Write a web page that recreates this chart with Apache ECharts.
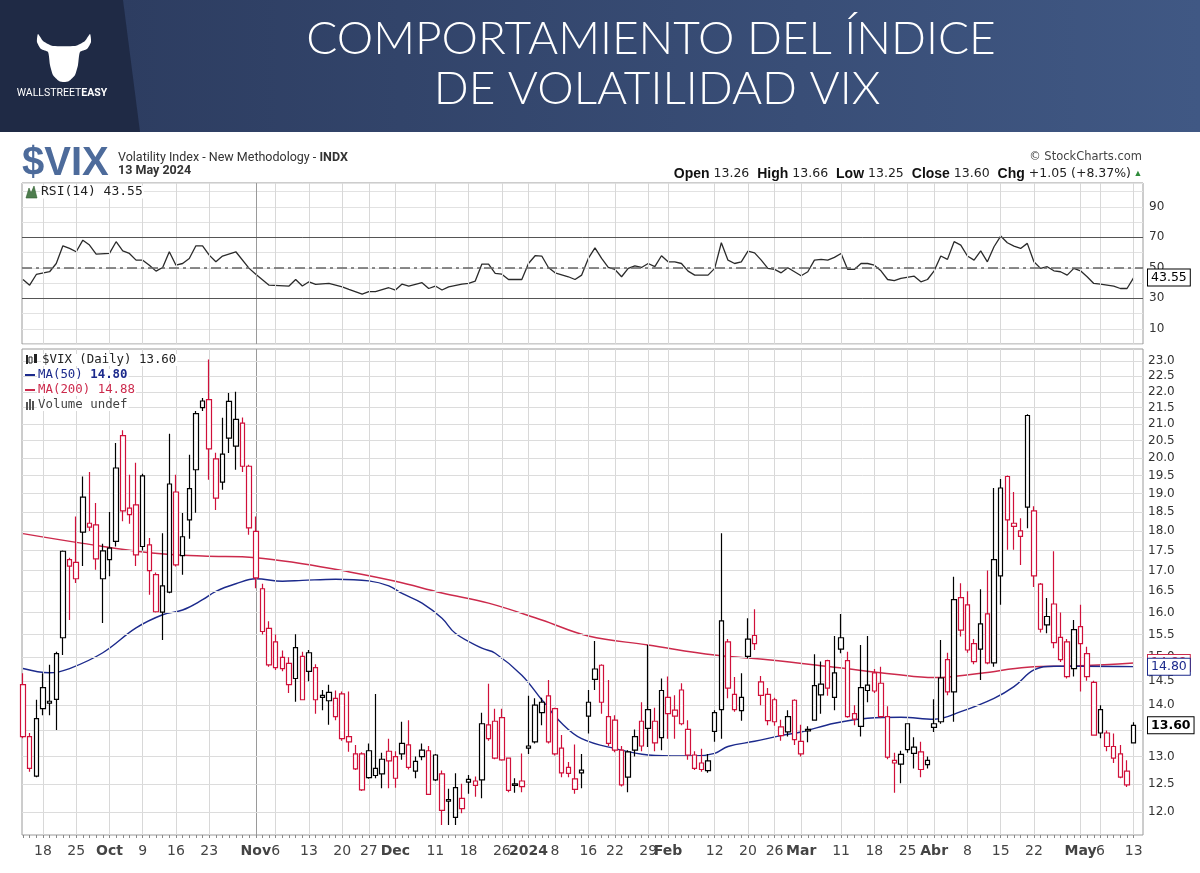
<!DOCTYPE html>
<html><head><meta charset="utf-8">
<script src="https://cdn.jsdelivr.net/npm/echarts@6/dist/echarts.min.js"></script>
<style>html,body{margin:0;padding:0;background:#fff}#c{width:1200px;height:873px}</style>
</head><body><div id="c"></div>
<script>
// ---------- DATA ----------
const dates = [
'2023-09-13','2023-09-14','2023-09-15','2023-09-18','2023-09-19','2023-09-20','2023-09-21','2023-09-22','2023-09-25','2023-09-26','2023-09-27','2023-09-28','2023-09-29',
'2023-10-02','2023-10-03','2023-10-04','2023-10-05','2023-10-06','2023-10-09','2023-10-10','2023-10-11','2023-10-12','2023-10-13','2023-10-16','2023-10-17','2023-10-18','2023-10-19','2023-10-20','2023-10-23','2023-10-24','2023-10-25','2023-10-26','2023-10-27','2023-10-30','2023-10-31',
'2023-11-01','2023-11-02','2023-11-03','2023-11-06','2023-11-07','2023-11-08','2023-11-09','2023-11-10','2023-11-13','2023-11-14','2023-11-15','2023-11-16','2023-11-17','2023-11-20','2023-11-21','2023-11-22','2023-11-24','2023-11-27','2023-11-28','2023-11-29','2023-11-30',
'2023-12-01','2023-12-04','2023-12-05','2023-12-06','2023-12-07','2023-12-08','2023-12-11','2023-12-12','2023-12-13','2023-12-14','2023-12-15','2023-12-18','2023-12-19','2023-12-20','2023-12-21','2023-12-22','2023-12-26','2023-12-27','2023-12-28','2023-12-29',
'2024-01-02','2024-01-03','2024-01-04','2024-01-05','2024-01-08','2024-01-09','2024-01-10','2024-01-11','2024-01-12','2024-01-16','2024-01-17','2024-01-18','2024-01-19','2024-01-22','2024-01-23','2024-01-24','2024-01-25','2024-01-26','2024-01-29','2024-01-30','2024-01-31',
'2024-02-01','2024-02-02','2024-02-05','2024-02-06','2024-02-07','2024-02-08','2024-02-09','2024-02-12','2024-02-13','2024-02-14','2024-02-15','2024-02-16','2024-02-20','2024-02-21','2024-02-22','2024-02-23','2024-02-26','2024-02-27','2024-02-28','2024-02-29',
'2024-03-01','2024-03-04','2024-03-05','2024-03-06','2024-03-07','2024-03-08','2024-03-11','2024-03-12','2024-03-13','2024-03-14','2024-03-15','2024-03-18','2024-03-19','2024-03-20','2024-03-21','2024-03-22','2024-03-25','2024-03-26','2024-03-27','2024-03-28',
'2024-04-01','2024-04-02','2024-04-03','2024-04-04','2024-04-05','2024-04-08','2024-04-09','2024-04-10','2024-04-11','2024-04-12','2024-04-15','2024-04-16','2024-04-17','2024-04-18','2024-04-19','2024-04-22','2024-04-23','2024-04-24','2024-04-25','2024-04-26','2024-04-29','2024-04-30',
'2024-05-01','2024-05-02','2024-05-03','2024-05-06','2024-05-07','2024-05-08','2024-05-09','2024-05-10','2024-05-13'
];
const opens = [
14.42,13.38,12.64,14.36,14.08,14.12,15.43,17.27,17.20,17.97,18.20,18.16,16.80,
17.27,17.73,20.65,18.60,18.69,19.49,17.64,16.90,16.01,16.48,19.04,17.37,18.29,19.66,21.50,21.75,19.97,19.31,21.70,20.34,21.03,19.76,
17.99,16.56,15.64,15.34,15.00,14.87,14.55,15.02,15.10,14.78,14.20,14.09,14.14,14.23,13.38,13.05,13.05,13.11,12.78,12.68,13.10,
13.00,13.25,13.22,12.73,13.12,13.11,13.03,12.68,12.22,11.91,12.06,12.58,12.55,12.57,13.34,13.68,13.75,12.97,12.50,12.55,
13.20,13.28,13.85,14.19,13.93,13.16,12.80,12.59,12.75,14.06,14.53,14.83,13.77,13.70,13.12,12.62,13.12,13.68,13.91,13.68,13.36,
14.16,13.90,14.31,13.52,13.03,12.88,12.74,13.48,13.91,15.34,14.22,13.89,15.02,15.48,14.20,14.22,14.11,13.57,13.47,14.10,
13.29,13.52,13.70,14.21,14.93,14.16,15.43,14.93,13.83,13.58,14.30,14.67,14.45,13.77,12.93,12.86,13.63,13.06,13.09,12.85,
13.56,13.67,14.95,14.27,16.35,16.18,15.30,15.18,15.97,14.88,16.87,19.47,18.20,17.86,21.26,18.53,16.67,15.72,16.20,15.44,15.34,14.76,
15.68,15.08,14.47,13.91,13.45,13.19,13.05,12.73,13.26
];
const closes = [
13.38,12.78,13.73,13.93,14.04,15.08,17.48,17.11,16.80,18.90,18.10,17.29,17.49,
17.56,19.71,18.53,18.43,17.39,17.60,17.00,16.02,16.63,19.26,17.14,17.85,19.13,21.32,21.71,20.26,18.87,20.11,20.58,21.14,19.76,18.08,
16.82,15.57,14.84,14.78,14.76,14.42,15.21,14.11,14.70,14.11,14.16,14.26,13.77,13.34,13.28,12.77,12.39,12.61,12.65,12.95,12.92,
12.60,13.05,12.80,12.91,13.00,12.31,12.57,12.03,12.19,12.43,12.24,12.53,12.47,13.63,13.61,12.97,12.94,12.38,12.47,12.45,
13.16,14.00,14.06,13.28,13.05,12.70,12.69,12.40,12.70,13.78,14.75,14.06,13.25,13.12,12.48,13.09,13.38,13.20,13.54,13.26,14.30,
13.83,13.78,13.63,13.03,12.78,12.76,12.92,13.85,15.81,14.35,13.91,14.16,15.40,15.30,14.48,13.69,13.67,13.40,13.77,13.32,
13.05,13.49,14.40,14.43,14.35,14.67,15.18,13.77,13.72,14.36,14.41,14.29,13.77,12.99,12.88,13.04,13.13,13.18,12.76,12.93,
13.63,14.56,14.27,16.30,15.60,15.16,14.91,15.74,14.88,17.27,19.15,18.29,18.12,18.00,18.63,16.87,15.62,15.91,15.32,14.95,14.59,15.61,
15.30,14.59,13.41,13.45,13.19,12.97,12.62,12.48,13.60
];
const lows = [
13.35,12.72,12.62,13.80,13.80,13.51,15.05,15.83,16.70,17.11,18.00,17.02,15.76,
16.86,17.60,18.25,18.19,17.11,17.50,16.42,16.00,15.38,16.45,17.10,16.90,17.80,18.48,21.40,19.38,18.55,19.10,20.14,19.66,19.60,17.90,
16.57,15.50,14.80,14.73,14.70,14.25,14.07,14.10,14.49,13.83,13.90,13.61,13.70,13.30,13.09,12.75,12.37,12.59,12.60,12.42,12.42,
12.43,12.94,12.76,12.60,12.93,12.30,12.55,11.78,11.78,11.78,11.98,12.32,12.27,12.24,13.30,12.95,12.92,12.35,12.34,12.35,
13.05,13.25,13.60,13.25,13.02,12.62,12.62,12.32,12.42,13.44,14.31,13.83,13.20,13.08,12.45,12.35,13.00,13.10,13.18,13.10,13.12,
13.34,13.34,13.60,12.94,12.75,12.72,12.70,13.28,13.34,14.14,13.87,13.69,14.98,15.16,14.00,13.60,13.59,13.30,13.38,13.22,
13.00,13.27,13.70,13.83,14.19,13.90,15.09,13.75,13.60,13.38,14.06,14.25,13.75,12.95,12.34,12.51,13.07,12.78,12.62,12.78,
13.47,13.63,14.20,13.67,15.46,15.10,14.85,14.52,14.85,14.80,16.18,17.52,17.52,17.14,18.07,16.60,15.55,15.53,15.20,14.90,14.55,14.59,
14.28,14.50,13.40,13.35,13.10,12.88,12.60,12.44,13.25
];
const highs = [
14.66,13.45,14.11,14.66,14.84,15.12,17.50,17.32,18.38,19.47,19.60,18.74,17.67,
18.50,20.43,20.81,19.52,19.86,19.55,17.82,16.95,17.94,20.71,19.52,18.47,20.09,21.40,21.80,23.05,20.15,21.19,21.96,22.00,21.20,19.80,
18.38,16.68,15.80,15.50,15.15,15.00,15.51,15.12,15.16,14.85,14.31,14.42,14.30,14.28,14.28,13.22,13.08,13.25,14.23,13.07,13.34,
13.10,13.67,13.70,13.00,13.25,13.20,13.05,12.74,12.41,12.69,12.50,12.66,12.63,13.85,14.44,13.93,13.93,12.97,12.60,13.06,
14.19,14.14,14.15,14.52,13.95,13.41,12.90,13.23,13.05,14.31,15.36,14.85,14.52,13.80,13.20,13.12,13.52,14.06,15.27,13.95,14.55,
14.59,14.20,14.45,13.70,13.10,13.15,13.05,13.90,17.94,15.40,14.58,14.66,15.87,16.08,14.60,14.35,14.15,13.71,13.90,14.12,
13.61,13.58,15.07,14.91,14.95,15.47,15.97,15.12,14.00,15.27,15.47,14.75,14.80,13.98,13.07,13.11,13.63,13.37,13.28,13.00,
14.12,15.38,15.10,16.85,16.69,16.50,15.40,16.55,17.00,19.15,19.40,19.50,19.04,18.33,21.30,18.65,16.70,16.34,17.48,16.00,15.40,15.83,
16.18,15.23,14.50,14.00,13.50,13.44,13.22,12.93,13.66
];
// moving averages: [candle index, value]
const ma50 = [[0,14.76],[4,14.67],[7,14.76],[12,15.10],[17,15.65],[21,15.95],[24,16.06],[27,16.30],[29,16.50],[32,16.68],[35,16.80],[39,16.74],[42,16.76],[47,16.79],[52,16.75],[55,16.63],[57,16.45],[60,16.22],[63,15.87],[65,15.53],[69,15.20],[71,15.09],[75,14.62],[78,14.11],[81,13.64],[84,13.34],[89,13.15],[94,13.03],[99,13.01],[101,13.01],[104,13.06],[106,13.19],[110,13.29],[114,13.40],[117,13.47],[122,13.64],[127,13.74],[132,13.76],[137,13.72],[141,13.87],[146,14.14],[149,14.38],[152,14.73],[155,14.81],[159,14.81],[167,14.80]];
const ma200 = [[0,17.93],[9,17.68],[19,17.44],[27,17.36],[35,17.32],[42,17.17],[48,17.00],[56,16.74],[63,16.46],[70,16.22],[78,15.83],[85,15.47],[94,15.27],[104,15.05],[112,14.95],[122,14.79],[131,14.64],[137,14.57],[144,14.66],[151,14.79],[159,14.82],[167,14.88]];
const rsi = [[0,42.3],[1,38.6],[2,45.6],[4,47.4],[5,52.8],[6,64.4],[7,62.7],[8,60.5],[9,68.1],[10,64.9],[11,59.0],[13,59.4],[14,67.1],[15,61.1],[16,59.4],[17,55.0],[18,55.0],[19,51.7],[20,47.8],[21,50.2],[22,60.5],[23,51.7],[24,52.8],[25,56.1],[26,64.4],[27,64.4],[28,58.3],[29,53.9],[30,57.7],[32,60.5],[34,49.6],[35,45.8],[37,38.6],[40,38.0],[41,42.3],[42,38.0],[43,40.8],[44,39.1],[46,39.7],[48,37.5],[49,35.8],[51,32.7],[52,34.3],[53,34.3],[55,36.9],[56,35.4],[57,39.3],[58,38.0],[60,40.2],[61,36.4],[62,38.0],[63,35.4],[64,37.5],[66,39.3],[67,39.7],[68,41.3],[69,52.4],[70,52.4],[71,46.3],[72,45.8],[73,42.3],[75,42.3],[76,52.8],[77,57.9],[78,57.7],[79,50.2],[80,46.7],[82,44.1],[83,42.3],[84,45.2],[85,56.1],[86,63.1],[87,56.1],[88,50.2],[89,48.9],[90,44.1],[91,49.6],[92,51.3],[93,50.2],[94,52.8],[95,50.7],[96,57.9],[97,53.9],[98,53.9],[99,52.8],[100,47.8],[101,45.2],[103,45.2],[104,49.6],[105,66.4],[106,55.0],[107,52.8],[108,53.9],[109,60.9],[110,59.8],[111,55.0],[112,49.6],[113,48.9],[114,46.7],[115,50.0],[116,47.4],[117,44.8],[118,47.4],[119,55.0],[120,55.5],[121,55.0],[122,56.8],[123,59.4],[124,48.9],[125,48.9],[126,52.8],[127,52.8],[128,51.7],[129,48.0],[130,42.3],[131,41.5],[132,43.0],[134,44.5],[135,40.8],[136,42.3],[137,48.0],[138,57.7],[139,55.5],[140,67.1],[141,64.9],[142,57.7],[143,55.0],[144,61.1],[145,53.9],[146,63.8],[147,70.8],[148,66.4],[149,64.2],[150,62.7],[151,66.0],[152,53.9],[153,49.6],[154,50.7],[155,48.0],[156,47.4],[157,45.2],[158,49.6],[159,48.0],[160,44.1],[161,39.7],[162,39.3],[164,38.0],[165,36.4],[166,36.4],[167,43.55]];
const priceTicks = [12.0,12.5,13.0,13.5,14.0,14.5,15.0,15.5,16.0,16.5,17.0,17.5,18.0,18.5,19.0,19.5,20.0,20.5,21.0,21.5,22.0,22.5,23.0];
const rsiTicks = [10,30,50,70,90];
const rsiLevels = [30,70];
const rsiMid = 50;
const xTicks = [['2023-09-18','18'],['2023-09-25','25'],['2023-10-02','Oct'],['2023-10-09','9'],['2023-10-16','16'],['2023-10-23','23'],['2023-11-01','Nov'],['2023-11-06','6'],['2023-11-13','13'],['2023-11-20','20'],['2023-11-27','27'],['2023-12-01','Dec'],['2023-12-11','11'],['2023-12-18','18'],['2023-12-26','26'],['2024-01-02','2024'],['2024-01-08','8'],['2024-01-16','16'],['2024-01-22','22'],['2024-01-29','29'],['2024-02-01','Feb'],['2024-02-12','12'],['2024-02-20','20'],['2024-02-26','26'],['2024-03-01','Mar'],['2024-03-11','11'],['2024-03-18','18'],['2024-03-25','25'],['2024-04-01','Abr'],['2024-04-08','8'],['2024-04-15','15'],['2024-04-22','22'],['2024-05-01','May'],['2024-05-06','6'],['2024-05-13','13']];
const boldLabels = ['Oct','Nov','Dec','2024','Feb','Mar','Abr','May'];
const strongLines = ['2023-11-01'];
const lastClose = 13.60, lastMa50 = 14.80, lastMa200 = 14.88, lastRsi = 43.55;

// ---------- STYLE ----------
const RED = '#d0103a', BLK = '#000000', NAVY = '#1c2a8c', MARED = '#cc2a4c';
const FONT = '"DejaVu Sans", sans-serif';
const MONO = '"DejaVu Sans Mono", monospace';
const NOLINE = { color: 'rgba(0,0,0,0)', width: 0 };

const candles = dates.map((d, i) => {
  const o = opens[i], c = closes[i];
  const prev = i > 0 ? closes[i - 1] : o;
  const col = c < prev ? RED : BLK;
  return { value: [i, o, c, lows[i], highs[i]],
    itemStyle: { color: '#ffffff', color0: col, borderColor: col, borderColor0: col } };
});
const xLabelMap = {};
xTicks.forEach(([d, t]) => { xLabelMap[dates.indexOf(d)] = t; });
const xLabelIdx = Object.keys(xLabelMap).map(Number);
const vLines = xTicks.map(([d]) => ({ xAxis: dates.indexOf(d),
  lineStyle: { color: strongLines.includes(d) ? '#9a9a9a' : '#d8d8d8', width: 1, type: 'solid' } }));

const XMIN = -0.15, XMAX = 168.4;
const chart = echarts.init(document.getElementById('c'), null, { renderer: 'canvas' });

const tagLabel = (col, bold) => ({ show: true, position: 'end', distance: 5, formatter: p => Number(p.value).toFixed(2),
  backgroundColor: '#fff', borderColor: col, borderWidth: 1, padding: [2, 3, 1, 3], color: col,
  fontSize: 12.5, fontFamily: FONT, fontWeight: bold ? 'bold' : 'normal' });

const bull = [[12,20],[5,17],[1,10],[2,2],[7,9],[12,12],[17,14],[39,14],[44,12],[49,9],[54,2],[55,10],[51,17],[44,20],[42,33],[39,43],[33,49],[28,50],[23,49],[17,43],[14,33]].map(p => [p[0] + 36, p[1] + 32]);
const legendText = (x, y, text, fill, rich) => ({ type: 'text', x: x, y: y, z: 100,
  style: { text: text, fill: fill, fontSize: 12.4, fontFamily: MONO, verticalAlign: 'middle', backgroundColor: '#fff', padding: [0, 1], rich: rich } });

chart.setOption({
  animation: false,
  backgroundColor: '#ffffff',
  grid: [
    { left: 22, right: 57, top: 183, bottom: 529, show: true, borderColor: '#9a9a9a', borderWidth: 1, backgroundColor: '#fff' },
    { left: 22, right: 57, top: 349, bottom: 38, show: true, borderColor: '#9a9a9a', borderWidth: 1, backgroundColor: '#fff' }
  ],
  xAxis: [
    { type: 'value', gridIndex: 0, min: XMIN, max: XMAX, axisLine: { show: false }, axisTick: { show: false }, axisLabel: { show: false }, splitLine: { show: false } },
    { type: 'value', gridIndex: 1, min: XMIN, max: XMAX, axisLine: { show: false }, splitLine: { show: false },
      axisTick: { show: true, customValues: dates.map((d, i) => i), length: 3, lineStyle: { color: '#888' } },
      axisLabel: { show: true, customValues: xLabelIdx, margin: 9, fontSize: 14, color: '#444', fontFamily: FONT,
        formatter: v => { const t = xLabelMap[Math.round(v)] || ''; return boldLabels.includes(t) ? '{b|' + t + '}' : t; },
        rich: { b: { fontWeight: 'bold', fontSize: 14, color: '#444', fontFamily: FONT } } } }
  ],
  yAxis: [
    { type: 'value', gridIndex: 0, position: 'right', min: 0, max: 105.6, interval: 10,
      axisLine: { show: false }, axisTick: { show: false },
      splitLine: { show: true, lineStyle: { color: '#e2e2e2' } },
      axisLabel: { margin: 6, color: '#333', fontSize: 12, fontFamily: FONT, showMaxLabel: false,
        formatter: v => rsiTicks.includes(v) ? String(v) : '' } },
    { type: 'log', logBase: 10, gridIndex: 1, min: 11.61, max: 23.40,
      axisLine: { show: false }, axisTick: { show: false }, axisLabel: { show: false }, splitLine: { show: false } }
  ],
  series: [
    { type: 'line', xAxisIndex: 0, yAxisIndex: 0, data: [[0, 50]], symbol: 'none', lineStyle: { opacity: 0 }, silent: true, z: 1,
      markLine: { silent: true, symbol: ['none', 'none'], label: { show: false },
        data: vLines.concat(rsiLevels.map(v => ({ yAxis: v, lineStyle: { color: '#555', width: 1, type: 'solid' } })))
          .concat([{ yAxis: rsiMid, lineStyle: { color: '#666', width: 1.5, type: [10, 4, 3, 4] } }]) } },
    { type: 'line', name: 'RSI(14)', xAxisIndex: 0, yAxisIndex: 0, data: rsi, symbol: 'none', z: 4,
      lineStyle: { color: '#2a2a2a', width: 1.3 } },
    { type: 'line', xAxisIndex: 0, yAxisIndex: 0, data: [[0, 50]], symbol: 'none', lineStyle: { opacity: 0 }, silent: true, z: 10,
      markLine: { silent: true, symbol: ['none', 'none'], lineStyle: NOLINE,
        data: [{ yAxis: lastRsi, lineStyle: NOLINE, label: tagLabel('#000', false) }] } },
    { type: 'line', xAxisIndex: 1, yAxisIndex: 1, data: [[0, 15]], symbol: 'none', lineStyle: { opacity: 0 }, silent: true, z: 1,
      markLine: { silent: true, symbol: ['none', 'none'],
        data: vLines.concat(priceTicks.map(v => ({ yAxis: v, lineStyle: { color: '#dcdcdc', width: 1, type: 'solid' },
          label: { show: true, position: 'end', distance: 5, formatter: v.toFixed(1), color: '#333', fontSize: 12, fontFamily: FONT } }))),
        label: { show: false } } },
    { type: 'line', name: 'MA(200)', xAxisIndex: 1, yAxisIndex: 1, data: ma200, symbol: 'none', smooth: 0.4, z: 3,
      lineStyle: { color: MARED, width: 1.5 } },
    { type: 'line', name: 'MA(50)', xAxisIndex: 1, yAxisIndex: 1, data: ma50, symbol: 'none', smooth: 0.4, z: 3,
      lineStyle: { color: NAVY, width: 1.4 } },
    { type: 'candlestick', name: '$VIX', xAxisIndex: 1, yAxisIndex: 1, data: candles, barWidth: 5, z: 5,
      encode: { x: 0, y: [1, 2, 3, 4] }, itemStyle: { borderWidth: 1.2 } },
    { type: 'line', xAxisIndex: 1, yAxisIndex: 1, data: [[0, 15]], symbol: 'none', lineStyle: { opacity: 0 }, silent: true, z: 10,
      markLine: { silent: true, symbol: ['none', 'none'], lineStyle: NOLINE,
        data: [
          { yAxis: lastMa200, lineStyle: NOLINE, label: tagLabel(MARED, false) },
          { yAxis: lastMa50, lineStyle: NOLINE, label: tagLabel(NAVY, false) },
          { yAxis: lastClose, lineStyle: NOLINE, label: tagLabel('#000', true) }
        ] } }
  ],
  graphic: [
    { type: 'rect', shape: { x: 0, y: 0, width: 1200, height: 132 },
      style: { fill: { type: 'linear', x: 0, y: 0, x2: 1, y2: 0, colorStops: [{ offset: 0, color: '#2b3a5d' }, { offset: 1, color: '#405884' }] } } },
    { type: 'polygon', shape: { points: [[0, 0], [123, 0], [140, 132], [0, 132]] }, style: { fill: '#1f2a45' } },
    { type: 'polygon', shape: { points: bull, smooth: 0.2 }, style: { fill: '#ffffff' } },
    { type: 'text', x: 62, y: 93, style: { text: '{a|WALLSTREET}{b|EASY}', align: 'center', verticalAlign: 'middle',
      rich: { a: { fill: '#fff', fontSize: 10.5, fontFamily: 'Roboto' }, b: { fill: '#fff', fontSize: 10.5, fontWeight: 'bold', fontFamily: 'Roboto' } } } },
    { type: 'text', x: 651, y: 39, style: { text: 'COMPORTAMIENTO DEL ÍNDICE', fill: '#ffffff', fontSize: 46, fontWeight: 300, fontFamily: 'Lato', align: 'center', verticalAlign: 'middle' } },
    { type: 'text', x: 657, y: 89, style: { text: 'DE VOLATILIDAD VIX', fill: '#ffffff', fontSize: 46, fontWeight: 300, fontFamily: 'Lato', align: 'center', verticalAlign: 'middle' } },
    { type: 'text', x: 22, y: 164, style: { text: '$VIX', fill: '#4d6b9b', fontSize: 40, fontWeight: 'bold', fontFamily: '"Liberation Sans"', verticalAlign: 'middle' } },
    { type: 'text', x: 118, y: 158, style: { text: 'Volatility Index - New Methodology - {b|INDX}', fill: '#333', fontSize: 12.5, fontFamily: 'Roboto', verticalAlign: 'middle',
      rich: { b: { fontWeight: 'bold', fontSize: 12.5, fontFamily: 'Roboto', fill: '#333' } } } },
    { type: 'text', x: 118, y: 171, style: { text: '13 May 2024', fill: '#333', fontSize: 12.5, fontWeight: 'bold', fontFamily: 'Roboto', verticalAlign: 'middle' } },
    { type: 'text', x: 1142, y: 157, style: { text: '© StockCharts.com', fill: '#444', fontSize: 11.5, fontFamily: FONT, align: 'right', verticalAlign: 'middle' } },
    { type: 'text', x: 1131, y: 174, style: { text: '{l|Open} 13.26  {l|High} 13.66  {l|Low} 13.25  {l|Close} 13.60  {l|Chg} +1.05 (+8.37%)',
      fill: '#222', fontSize: 12.5, fontFamily: FONT, align: 'right', verticalAlign: 'middle',
      rich: { l: { fontWeight: 'bold', fontSize: 14, fontFamily: '"Liberation Sans"', fill: '#111' } } } },
    { type: 'text', x: 1138, y: 174, style: { text: '▲', fill: '#2e8b3a', fontSize: 9, align: 'center', verticalAlign: 'middle' } },
    { type: 'polygon', z: 100, shape: { points: [[26, 198], [29, 188], [31, 193], [34, 186], [37, 198]] }, style: { fill: '#4e7d4e', stroke: '#2f5f2f', lineWidth: 0.6 } },
    { type: 'text', x: 40, y: 192, z: 100, style: { text: 'RSI(14) 43.55', fill: '#222', fontSize: 13, fontFamily: MONO, verticalAlign: 'middle', backgroundColor: '#fff', padding: [0, 1] } },
    { type: 'rect', z: 100, shape: { x: 26, y: 355, width: 2, height: 9 }, style: { fill: '#222' } },
    { type: 'rect', z: 100, shape: { x: 29, y: 357, width: 3, height: 6 }, style: { fill: '#fff', stroke: '#222', lineWidth: 1 } },
    { type: 'rect', z: 100, shape: { x: 34, y: 354, width: 3, height: 9 }, style: { fill: '#222' } },
    legendText(41, 360, '$VIX (Daily) 13.60', '#222'),
    { type: 'line', z: 100, shape: { x1: 25, y1: 375, x2: 35, y2: 375 }, style: { stroke: NAVY, lineWidth: 2 } },
    legendText(37, 375, 'MA(50) {b|14.80}', NAVY, { b: { fontWeight: 'bold', fill: NAVY, fontSize: 12.4, fontFamily: MONO } }),
    { type: 'line', z: 100, shape: { x1: 25, y1: 390, x2: 35, y2: 390 }, style: { stroke: MARED, lineWidth: 2 } },
    legendText(37, 390, 'MA(200) 14.88', MARED),
    { type: 'rect', z: 100, shape: { x: 26, y: 402, width: 2, height: 8 }, style: { fill: '#555' } },
    { type: 'rect', z: 100, shape: { x: 29, y: 399, width: 2, height: 11 }, style: { fill: '#555' } },
    { type: 'rect', z: 100, shape: { x: 32, y: 401, width: 2, height: 9 }, style: { fill: '#555' } },
    legendText(37, 405, 'Volume undef', '#444')
  ]
});
</script>
</body></html>
